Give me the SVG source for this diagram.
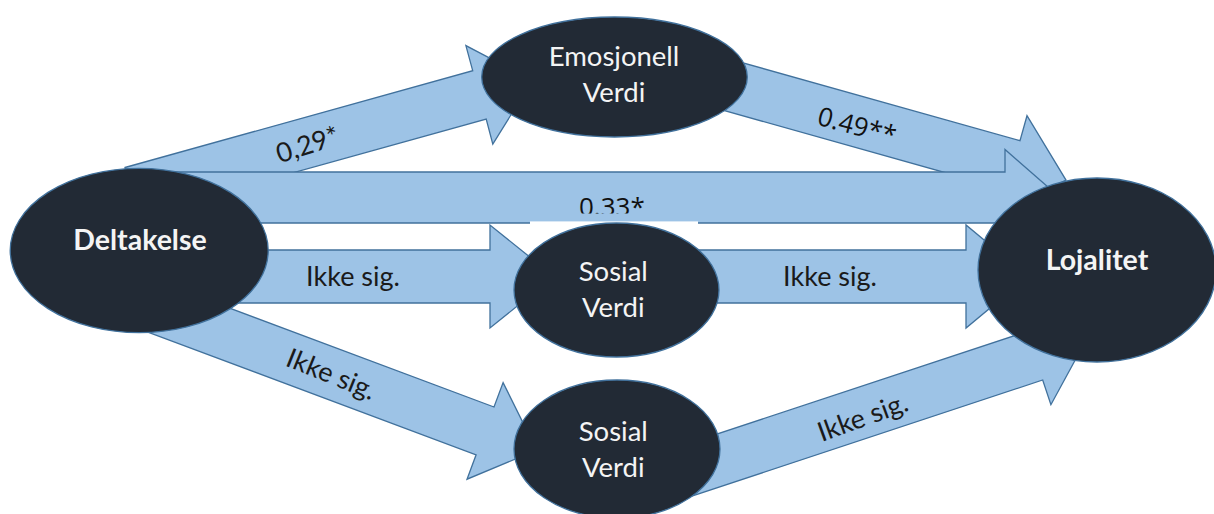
<svg xmlns="http://www.w3.org/2000/svg" width="1214" height="514" viewBox="0 0 1214 514">
  <style>
    .arrow { fill: #9dc3e6; stroke: #41719c; stroke-width: 1.3; stroke-linejoin: miter; }
    .node { fill: #222a35; stroke: #41719c; stroke-width: 1.3; }
    .ntext { font-family: Lato, "Open Sans", sans-serif; font-size: 27.5px; fill: #f4f4f4; text-anchor: middle; }
    .nbold { font-weight: bold; font-size: 28.5px; }
    .elabel { font-family: Lato, "Open Sans", sans-serif; font-size: 27px; fill: #1a1a1a; text-anchor: middle; }
    .coef { font-family: "Open Sans", sans-serif; font-size: 26px; fill: #111111; }
  </style>
  <defs>
    <clipPath id="clip-033">
      <rect x="560" y="180" width="120" height="33.5"/>
    </clipPath>
  </defs>

  <rect width="1214" height="514" fill="#ffffff"/>

  <!-- connectors: block arrows -->
  <g id="connectors">
    <!-- Deltakelse -> Emosjonell Verdi -->
    <polygon class="arrow" points="125,167.5 472.7,70.7 465.9,45.6 532.3,80.5 492.8,144.1 486.2,119 138.5,215.7"/>
    <!-- Emosjonell Verdi -> Lojalitet -->
    <polygon class="arrow" points="700,50.8 1020,140.7 1027,115.7 1066,180.1 999.2,214.8 1006.2,189.8 686.2,99.9"/>
    <!-- Deltakelse -> Lojalitet -->
    <polygon class="arrow" points="160,172 1005,172 1005,149.5 1060,197.5 1005,245.5 1005,223 160,223"/>
    <!-- Deltakelse -> Sosial Verdi (upper) -->
    <polygon class="arrow" points="200,250 490,250 490,225 554,276.5 490,328 490,303 200,303"/>
    <!-- Sosial Verdi (upper) -> Lojalitet -->
    <polygon class="arrow" points="650,250 966,250 966,225 1028,276.5 966,328 966,303 650,303"/>
    <!-- Deltakelse -> Sosial Verdi (lower) -->
    <polygon class="arrow" points="158.9,281.7 494,407 503.1,382.6 536.6,450.2 467,479.2 476.1,454.8 141.1,329.5"/>
    <!-- Sosial Verdi (lower) -> Lojalitet -->
    <polygon class="arrow" points="632,462.2 1026.7,331.6 1018.5,306.9 1086.9,338.5 1050.9,404.7 1042.7,380 648,510.6"/>
    <!-- label box edge over the direct path -->
    <rect x="530" y="221.4" width="168" height="3" fill="#ffffff"/>

    <!-- path coefficients -->
    <text class="elabel" transform="translate(308,146) rotate(-18)" x="0" y="8" font-size="24.5">0,29*</text>
    <text class="coef" transform="translate(857,126) rotate(15)" x="0" y="9" text-anchor="middle">0.49**</text>
    <text class="coef" x="579" y="215.5" clip-path="url(#clip-033)">0.33*</text>
    <text class="elabel" x="353" y="286">Ikke sig.</text>
    <text class="elabel" x="830" y="286">Ikke sig.</text>
    <text class="elabel" transform="translate(331,375) rotate(22)" x="0" y="8.5">Ikke sig.</text>
    <text class="elabel" transform="translate(863,418) rotate(-20)" x="0" y="8.5">Ikke sig.</text>
  </g>

  <!-- nodes -->
  <g id="node-deltakelse">
    <ellipse class="node" cx="139.2" cy="250.5" rx="129" ry="82.2"/>
    <text class="ntext nbold" x="140" y="250">Deltakelse</text>
  </g>
  <g id="node-emosjonell">
    <ellipse class="node" cx="614.5" cy="77" rx="132.8" ry="60"/>
    <text class="ntext" x="614" y="66">Emosjonell</text>
    <text class="ntext" x="614" y="102">Verdi</text>
  </g>
  <g id="node-sosial-1">
    <ellipse class="node" cx="616.5" cy="290" rx="102.5" ry="67"/>
    <text class="ntext" x="613.3" y="281">Sosial</text>
    <text class="ntext" x="613.3" y="317">Verdi</text>
  </g>
  <g id="node-sosial-2">
    <ellipse class="node" cx="617" cy="449" rx="103" ry="69"/>
    <text class="ntext" x="613.3" y="440.5">Sosial</text>
    <text class="ntext" x="613.3" y="476.5">Verdi</text>
  </g>
  <g id="node-lojalitet">
    <ellipse class="node" cx="1097" cy="270" rx="119" ry="92"/>
    <text class="ntext nbold" x="1097" y="270">Lojalitet</text>
  </g>
</svg>
